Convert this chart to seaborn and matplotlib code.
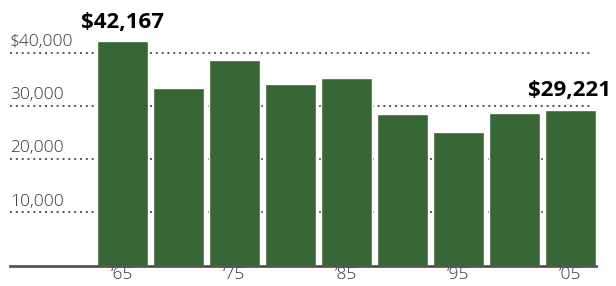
import numpy as np
import pandas as pd
import matplotlib
matplotlib.use("Agg")
import matplotlib.pyplot as plt
import matplotlib.transforms as mtransforms
import seaborn as sns

# Data
years = ['1965', '1970', '1975', '1980', '1985', '1990', '1995', '2000', '2005']
income = [42167, 33400, 38600, 34100, 35200, 28500, 25100, 28700, 29221]
xlabels = ['\u201865', '', '\u201875', '', '\u201985', '', '\u201995', '', '\u201905']
yticks = [10000, 20000, 30000, 40000]
ylabels = ['10,000', '20,000', '30,000', '$40,000']

barcolor = '#356634'

sns.set_style("white")
plt.rcParams['font.family'] = ['Open Sans', 'DejaVu Sans']

fig = plt.figure(figsize=(6.16, 2.86), dpi=100)
ax = fig.add_axes([10/616, 20.5/286, 586/616, 265.5/286])

df = pd.DataFrame({'year': years, 'income': income})
sns.barplot(data=df, x='year', y='income', color=barcolor, saturation=1,
            width=51/56, ax=ax, zorder=3)

ax.set_xlim(-2.0, 8.455)
ax.set_ylim(0, 49900)
ax.set_xlabel('')
ax.set_ylabel('')

# dotted gridlines behind the bars
for v in yticks:
    ax.axhline(v, xmin=0, xmax=583/586, color='#555555', linestyle=(0, (1, 2)),
               linewidth=1.4, zorder=1)

# y labels sitting on top of gridlines at left
trans = mtransforms.blended_transform_factory(ax.transAxes, ax.transData)
for v, lab in zip(yticks, ylabels):
    ax.text(0.0, v + 500, lab, transform=trans, ha='left', va='bottom',
            fontsize=12.5, color='#333333', fontweight='light')

ax.set_yticks([])
ax.set_xticks(range(len(years)))
ax.set_xticklabels(xlabels, fontsize=12.5, color='#333333', fontweight='light')
ax.tick_params(axis='x', length=0, pad=1)

for s in ['top', 'right', 'left']:
    ax.spines[s].set_visible(False)
ax.spines['bottom'].set_color('#555555')
ax.spines['bottom'].set_linewidth(2)
ax.spines['bottom'].set_zorder(4)

# value callouts
ax.text(0, income[0] + 1500, '$42,167', ha='center', va='bottom',
        fontsize=16, fontweight='bold', color='black', clip_on=False)
ax.text(8.73, income[-1] + 1700, '$29,221', ha='right', va='bottom',
        fontsize=16, fontweight='bold', color='black', clip_on=False)

plt.savefig('out.png', dpi=100)
plt.close()
